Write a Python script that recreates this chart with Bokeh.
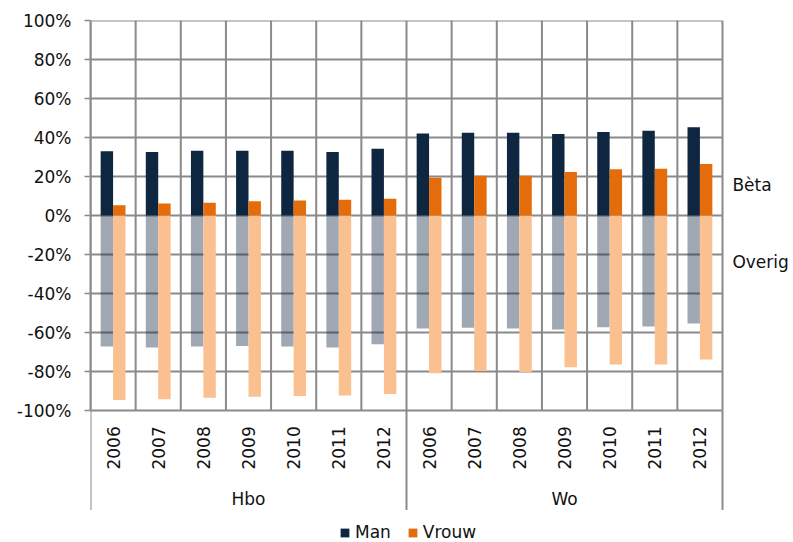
import numpy as np
from bokeh.plotting import figure
from bokeh.models import (ColumnDataSource, FixedTicker, Legend, LegendItem, Range1d,
                          PrintfTickFormatter)
from bokeh.core.properties import value
from bokeh.embed import file_html
from bokeh.resources import INLINE

# ---------------- data ----------------
years = ["2006", "2007", "2008", "2009", "2010", "2011", "2012"]
groups = ["Hbo", "Wo"]
side_labels = ["Bèta", "Overig"]

man_beta_hbo = [32.9, 32.6, 33.2, 33.2, 33.2, 32.6, 34.2]
vrouw_beta_hbo = [5.3, 6.1, 6.6, 7.3, 7.7, 8.1, 8.6]
man_beta_wo = [42.1, 42.4, 42.4, 41.8, 42.8, 43.5, 45.2]
vrouw_beta_wo = [19.4, 20.4, 20.4, 22.3, 23.7, 24.0, 26.4]

man_overig_hbo = [-67.2, -67.7, -67.2, -66.9, -67.2, -67.7, -66.0]
vrouw_overig_hbo = [-94.6, -94.2, -93.5, -93.0, -92.5, -92.3, -91.5]
man_overig_wo = [-58.0, -57.6, -58.0, -58.5, -57.3, -56.9, -55.4]
vrouw_overig_wo = [-80.9, -79.8, -80.2, -77.8, -76.4, -76.4, -73.8]

y_ticks = list(range(-100, 101, 20))

# ---------------- layout constants ----------------
FONT = "DejaVu Sans"
FS = "17px"
NAVY = "#0F2641"
ORANGE = "#E46C0A"
PEACH = "#FAC090"
GRID = "#8A8A8A"

n_y = len(years)
n_cat = n_y * len(groups)
PX_PER_PCT = 390 / 200.0
PX_PER_CAT = 632 / 14.0
fig_w, fig_h = 793, 542
left, top = 90, 20
y_start = 100 - (fig_h - top) / PX_PER_PCT
x_end = (fig_w - left) / PX_PER_CAT

cat_x = np.array([g * n_y + i + 0.5 for g in range(len(groups)) for i in range(n_y)])
bw = 0.275
off = bw / 2

man_beta = man_beta_hbo + man_beta_wo
vrouw_beta = vrouw_beta_hbo + vrouw_beta_wo
man_overig = man_overig_hbo + man_overig_wo
vrouw_overig = vrouw_overig_hbo + vrouw_overig_wo

src = ColumnDataSource(dict(
    xm=cat_x - off, xv=cat_x + off,
    man_beta=man_beta, vrouw_beta=vrouw_beta,
    man_overig=man_overig, vrouw_overig=vrouw_overig,
    zero=[0] * n_cat,
))

p = figure(width=fig_w, height=fig_h,
           x_range=Range1d(0, x_end), y_range=Range1d(y_start, 100),
           output_backend="svg", toolbar_location=None, x_axis_location=None,
           min_border_left=left, min_border_top=top,
           min_border_right=0, min_border_bottom=0)
p.outline_line_color = None
p.background_fill_color = "white"
p.grid.visible = False

# grid lines (horizontal at y ticks, vertical at category boundaries)
p.segment(x0=[0] * len(y_ticks), y0=y_ticks, x1=[n_cat] * len(y_ticks), y1=y_ticks,
          line_color=GRID, line_width=2)
bx = list(range(0, n_cat + 1))
p.segment(x0=bx, y0=[-100] * len(bx), x1=bx, y1=[100] * len(bx),
          line_color=GRID, line_width=2)

# y axis
ya = p.yaxis[0]
ya.ticker = FixedTicker(ticks=y_ticks)
ya.formatter = PrintfTickFormatter(format="%d%%")
ya.bounds = (-100, 100)
ya.axis_line_color = GRID
ya.axis_line_width = 2
ya.major_tick_line_color = GRID
ya.major_tick_line_width = 1.5
ya.major_tick_in = 0
ya.major_tick_out = 6
ya.minor_tick_line_color = None
ya.major_label_text_font = FONT
ya.major_label_text_font_size = FS
ya.major_label_text_color = "#111111"
ya.major_label_standoff = 13

# bars
p.vbar(x="xm", width=bw, bottom="zero", top="man_overig", source=src,
       fill_color=NAVY, fill_alpha=0.4, line_color=None)
p.vbar(x="xv", width=bw, bottom="zero", top="vrouw_overig", source=src,
       fill_color=PEACH, line_color=None)
r_man = p.vbar(x="xm", width=bw, bottom="zero", top="man_beta", source=src,
               fill_color=NAVY, line_color=None)
r_vrouw = p.vbar(x="xv", width=bw, bottom="zero", top="vrouw_beta", source=src,
                 fill_color=ORANGE, line_color=None)

# separators below the plot
sep_x = [g * n_y for g in range(len(groups) + 1)]
p.segment(x0=sep_x, y0=[-100] * len(sep_x), x1=sep_x, y1=[-151] * len(sep_x),
          line_color=GRID, line_width=2)

# year labels
p.text(x=cat_x, y=[-119.2] * n_cat, text=years * len(groups), angle=np.pi / 2,
       text_align="center", text_baseline="middle",
       text_font=value(FONT), text_font_size=FS, text_color="#111111")

# group labels
grp_x = [g * n_y + n_y / 2 for g in range(len(groups))]
p.text(x=grp_x, y=[-145.5] * len(groups), text=groups,
       text_align="center", text_baseline="middle",
       text_font=value(FONT), text_font_size=FS, text_color="#111111")

# side labels
p.text(x=[n_cat + 0.22] * 2, y=[15.5, -24], text=side_labels,
       text_align="left", text_baseline="middle",
       text_font=value(FONT), text_font_size=FS, text_color="#111111")

legend = Legend(items=[LegendItem(label="Man", renderers=[r_man]),
                       LegendItem(label="Vrouw", renderers=[r_vrouw])],
                orientation="horizontal", location=(249, 0),
                glyph_width=11, glyph_height=11, label_standoff=5, spacing=16,
                label_text_font=FONT, label_text_font_size=FS, label_text_color="#111111",
                padding=0, margin=0, border_line_color=None, background_fill_alpha=0)
p.add_layout(legend)

open("out.html", "w").write(file_html(p, INLINE))
